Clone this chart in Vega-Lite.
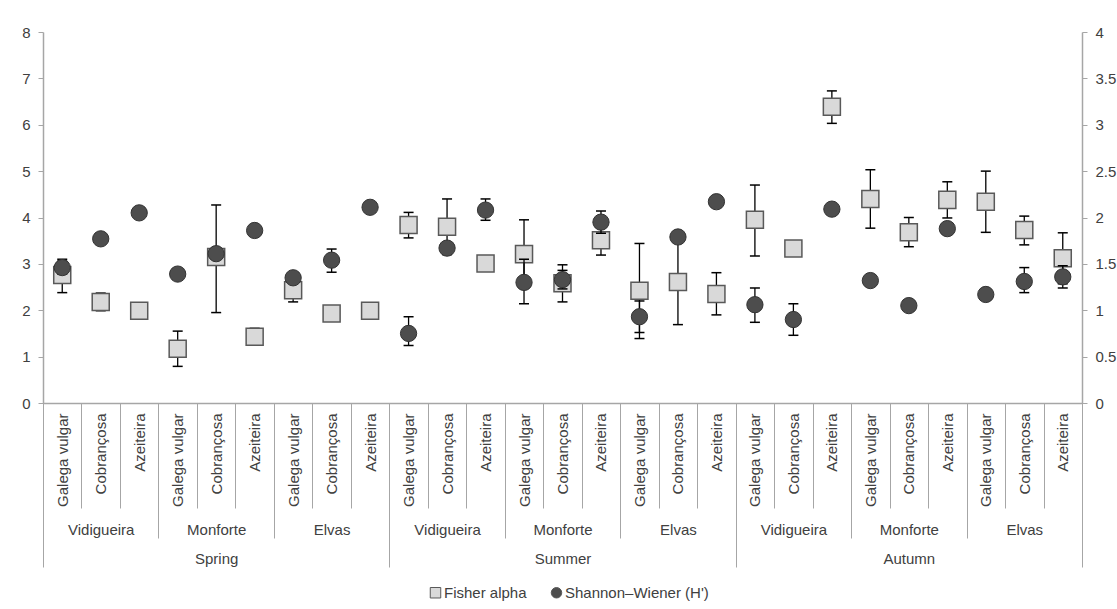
{
  "$schema": "https://vega.github.io/schema/vega-lite/v6.json",
  "width": 1039,
  "height": 371,
  "autosize": "none",
  "padding": {"left": 43, "top": 32, "right": 35, "bottom": 206},
  "background": "white",
  "config": {
    "view": {"stroke": null},
    "font": "Liberation Sans",
    "axis": {"labelFont": "Liberation Sans", "labelColor": "#404040", "domainColor": "#a6a6a6", "tickColor": "#a6a6a6", "grid": false, "title": null}
  },
  "data": {
    "values": [
      {"i": 0, "season": "Spring", "site": "Vidigueira", "cultivar": "Galega vulgar", "f": 2.76, "flo": 2.38, "fhi": 3.1, "h": 1.46, "hlo": 1.39, "hhi": 1.53},
      {"i": 1, "season": "Spring", "site": "Vidigueira", "cultivar": "Cobrançosa", "f": 2.18, "flo": 1.99, "fhi": 2.37, "h": 1.77, "hlo": 1.74, "hhi": 1.8},
      {"i": 2, "season": "Spring", "site": "Vidigueira", "cultivar": "Azeiteira", "f": 1.99, "flo": 1.92, "fhi": 2.06, "h": 2.05, "hlo": 2.01, "hhi": 2.09},
      {"i": 3, "season": "Spring", "site": "Monforte", "cultivar": "Galega vulgar", "f": 1.17, "flo": 0.79, "fhi": 1.55, "h": 1.39, "hlo": 1.34, "hhi": 1.44},
      {"i": 4, "season": "Spring", "site": "Monforte", "cultivar": "Cobrançosa", "f": 3.15, "flo": 1.95, "fhi": 4.27, "h": 1.61, "hlo": 1.55, "hhi": 1.67},
      {"i": 5, "season": "Spring", "site": "Monforte", "cultivar": "Azeiteira", "f": 1.43, "flo": 1.25, "fhi": 1.61, "h": 1.86, "hlo": 1.83, "hhi": 1.89},
      {"i": 6, "season": "Spring", "site": "Elvas", "cultivar": "Galega vulgar", "f": 2.43, "flo": 2.18, "fhi": 2.68, "h": 1.35, "hlo": 1.3, "hhi": 1.4},
      {"i": 7, "season": "Spring", "site": "Elvas", "cultivar": "Cobrançosa", "f": 1.93, "flo": 1.85, "fhi": 2.01, "h": 1.54, "hlo": 1.41, "hhi": 1.66},
      {"i": 8, "season": "Spring", "site": "Elvas", "cultivar": "Azeiteira", "f": 1.99, "flo": 1.85, "fhi": 2.13, "h": 2.11, "hlo": 2.08, "hhi": 2.14},
      {"i": 9, "season": "Summer", "site": "Vidigueira", "cultivar": "Galega vulgar", "f": 3.84, "flo": 3.56, "fhi": 4.11, "h": 0.75, "hlo": 0.62, "hhi": 0.93},
      {"i": 10, "season": "Summer", "site": "Vidigueira", "cultivar": "Cobrançosa", "f": 3.8, "flo": 3.2, "fhi": 4.4, "h": 1.67, "hlo": 1.62, "hhi": 1.72},
      {"i": 11, "season": "Summer", "site": "Vidigueira", "cultivar": "Azeiteira", "f": 3.01, "flo": 2.95, "fhi": 3.07, "h": 2.08, "hlo": 1.97, "hhi": 2.2},
      {"i": 12, "season": "Summer", "site": "Monforte", "cultivar": "Galega vulgar", "f": 3.21, "flo": 2.47, "fhi": 3.95, "h": 1.3, "hlo": 1.07, "hhi": 1.55},
      {"i": 13, "season": "Summer", "site": "Monforte", "cultivar": "Cobrançosa", "f": 2.58, "flo": 2.18, "fhi": 2.98, "h": 1.33, "hlo": 1.23, "hhi": 1.43},
      {"i": 14, "season": "Summer", "site": "Monforte", "cultivar": "Azeiteira", "f": 3.51, "flo": 3.19, "fhi": 3.83, "h": 1.95, "hlo": 1.83, "hhi": 2.07},
      {"i": 15, "season": "Summer", "site": "Elvas", "cultivar": "Galega vulgar", "f": 2.42, "flo": 1.39, "fhi": 3.44, "h": 0.93, "hlo": 0.76, "hhi": 1.1},
      {"i": 16, "season": "Summer", "site": "Elvas", "cultivar": "Cobrançosa", "f": 2.61, "flo": 1.69, "fhi": 3.53, "h": 1.79, "hlo": 1.76, "hhi": 1.82},
      {"i": 17, "season": "Summer", "site": "Elvas", "cultivar": "Azeiteira", "f": 2.35, "flo": 1.9, "fhi": 2.81, "h": 2.17, "hlo": 2.14, "hhi": 2.2},
      {"i": 18, "season": "Autumn", "site": "Vidigueira", "cultivar": "Galega vulgar", "f": 3.95, "flo": 3.17, "fhi": 4.7, "h": 1.06, "hlo": 0.87, "hhi": 1.24},
      {"i": 19, "season": "Autumn", "site": "Vidigueira", "cultivar": "Cobrançosa", "f": 3.33, "flo": 3.28, "fhi": 3.38, "h": 0.9, "hlo": 0.73, "hhi": 1.07},
      {"i": 20, "season": "Autumn", "site": "Vidigueira", "cultivar": "Azeiteira", "f": 6.39, "flo": 6.03, "fhi": 6.73, "h": 2.09, "hlo": 2.06, "hhi": 2.12},
      {"i": 21, "season": "Autumn", "site": "Monforte", "cultivar": "Galega vulgar", "f": 4.4, "flo": 3.77, "fhi": 5.03, "h": 1.32, "hlo": 1.29, "hhi": 1.35},
      {"i": 22, "season": "Autumn", "site": "Monforte", "cultivar": "Cobrançosa", "f": 3.68, "flo": 3.37, "fhi": 4.0, "h": 1.05, "hlo": 1.02, "hhi": 1.08},
      {"i": 23, "season": "Autumn", "site": "Monforte", "cultivar": "Azeiteira", "f": 4.38, "flo": 3.99, "fhi": 4.77, "h": 1.88, "hlo": 1.84, "hhi": 1.92},
      {"i": 24, "season": "Autumn", "site": "Elvas", "cultivar": "Galega vulgar", "f": 4.34, "flo": 3.68, "fhi": 5.0, "h": 1.17, "hlo": 1.14, "hhi": 1.2},
      {"i": 25, "season": "Autumn", "site": "Elvas", "cultivar": "Cobrançosa", "f": 3.73, "flo": 3.41, "fhi": 4.03, "h": 1.31, "hlo": 1.19, "hhi": 1.46},
      {"i": 26, "season": "Autumn", "site": "Elvas", "cultivar": "Azeiteira", "f": 3.12, "flo": 2.57, "fhi": 3.67, "h": 1.36, "hlo": 1.24, "hhi": 1.48}
    ]
  },
  "layer": [
    {
      "encoding": {
        "x": {
          "field": "i", "type": "ordinal",
          "scale": {"type": "band", "paddingInner": 0, "paddingOuter": 0},
          "axis": {
            "orient": "bottom",
            "tickBand": "extent", "tickSize": 105, "tickWidth": 1, "domainWidth": 1.5,
            "labelAngle": 270, "labelAlign": "right", "labelBaseline": "middle",
            "labelPadding": -95, "labelFontSize": 15, "labelOverlap": false, "labelBound": false,
            "labelExpr": "['Galega vulgar','Cobrançosa','Azeiteira'][datum.value % 3]"
          }
        }
      },
      "layer": [
        {
          "mark": {"type": "rule", "color": "#000000", "strokeWidth": 1.3},
          "encoding": {
            "y": {"field": "flo", "type": "quantitative", "scale": {"domain": [0, 8], "nice": false},
              "axis": {"orient": "left", "values": [0, 1, 2, 3, 4, 5, 6, 7, 8], "tickSize": 5, "domainWidth": 1.5, "labelFontSize": 15, "labelPadding": 8}},
            "y2": {"field": "fhi"}
          }
        },
        {
          "mark": {"type": "tick", "color": "#000000", "size": 10, "thickness": 1.5, "opacity": 1},
          "encoding": {"y": {"field": "flo", "type": "quantitative", "scale": {"domain": [0, 8], "nice": false},
            "axis": {"orient": "left", "values": [0, 1, 2, 3, 4, 5, 6, 7, 8], "tickSize": 5, "domainWidth": 1.5, "labelFontSize": 15, "labelPadding": 8}}}
        },
        {
          "mark": {"type": "tick", "color": "#000000", "size": 10, "thickness": 1.5, "opacity": 1},
          "encoding": {"y": {"field": "fhi", "type": "quantitative", "scale": {"domain": [0, 8], "nice": false},
            "axis": {"orient": "left", "values": [0, 1, 2, 3, 4, 5, 6, 7, 8], "tickSize": 5, "domainWidth": 1.5, "labelFontSize": 15, "labelPadding": 8}}}
        },
        {
          "mark": {"type": "point", "filled": true, "size": 290, "stroke": "#595959", "strokeWidth": 1.5, "opacity": 1},
          "encoding": {
            "y": {
              "field": "f", "type": "quantitative", "scale": {"domain": [0, 8], "nice": false},
              "axis": {"orient": "left", "values": [0, 1, 2, 3, 4, 5, 6, 7, 8], "tickSize": 5, "domainWidth": 1.5, "labelFontSize": 15, "labelPadding": 8}
            },
            "color": {
              "datum": "Fisher alpha",
              "scale": {"domain": ["Fisher alpha", "Shannon–Wiener (H')"], "range": ["#d9d9d9", "#4d4d4d"]},
              "legend": {"orient": "none", "legendX": 385, "legendY": 553, "direction": "horizontal", "title": null, "labelFontSize": 15, "labelColor": "#404040", "labelFont": "Liberation Sans", "symbolSize": 110, "symbolStrokeColor": "#595959", "symbolStrokeWidth": 1, "labelOffset": 1, "columnPadding": 22}
            },
            "shape": {
              "datum": "Fisher alpha",
              "scale": {"domain": ["Fisher alpha", "Shannon–Wiener (H')"], "range": ["square", "circle"]},
              "legend": {"orient": "none", "legendX": 385, "legendY": 553, "direction": "horizontal", "title": null, "labelFontSize": 15, "labelColor": "#404040", "labelFont": "Liberation Sans", "symbolSize": 110, "symbolStrokeColor": "#595959", "symbolStrokeWidth": 1, "labelOffset": 1, "columnPadding": 22}
            }
          }
        }
      ]
    },
    {
      "encoding": {
        "x": {"field": "i", "type": "ordinal", "scale": {"type": "band", "paddingInner": 0, "paddingOuter": 0}, "axis": null}
      },
      "layer": [
        {
          "mark": {"type": "rule", "color": "#000000", "strokeWidth": 1.3},
          "encoding": {
            "y": {"field": "hlo", "type": "quantitative", "scale": {"domain": [0, 4], "nice": false},
              "axis": {"orient": "right", "values": [0, 0.5, 1, 1.5, 2, 2.5, 3, 3.5, 4], "format": ".1~f", "tickSize": 5, "domainWidth": 1.5, "labelFontSize": 15, "labelPadding": 8}},
            "y2": {"field": "hhi"}
          }
        },
        {
          "mark": {"type": "tick", "color": "#000000", "size": 10, "thickness": 1.5, "opacity": 1},
          "encoding": {"y": {"field": "hlo", "type": "quantitative", "scale": {"domain": [0, 4], "nice": false},
            "axis": {"orient": "right", "values": [0, 0.5, 1, 1.5, 2, 2.5, 3, 3.5, 4], "format": ".1~f", "tickSize": 5, "domainWidth": 1.5, "labelFontSize": 15, "labelPadding": 8}}}
        },
        {
          "mark": {"type": "tick", "color": "#000000", "size": 10, "thickness": 1.5, "opacity": 1},
          "encoding": {"y": {"field": "hhi", "type": "quantitative", "scale": {"domain": [0, 4], "nice": false},
            "axis": {"orient": "right", "values": [0, 0.5, 1, 1.5, 2, 2.5, 3, 3.5, 4], "format": ".1~f", "tickSize": 5, "domainWidth": 1.5, "labelFontSize": 15, "labelPadding": 8}}}
        },
        {
          "mark": {"type": "point", "filled": true, "size": 265, "stroke": "#333333", "strokeWidth": 1, "opacity": 1},
          "encoding": {
            "y": {
              "field": "h", "type": "quantitative", "scale": {"domain": [0, 4], "nice": false},
              "axis": {"orient": "right", "values": [0, 0.5, 1, 1.5, 2, 2.5, 3, 3.5, 4], "format": ".1~f", "tickSize": 5, "domainWidth": 1.5, "labelFontSize": 15, "labelPadding": 8}
            },
            "color": {"datum": "Shannon–Wiener (H')"},
            "shape": {"datum": "Shannon–Wiener (H')"}
          }
        }
      ]
    },
    {
      "data": {
        "values": [
          {"sg": "Spring Vidigueira"}, {"sg": "Spring Monforte"}, {"sg": "Spring Elvas"},
          {"sg": "Summer Vidigueira"}, {"sg": "Summer Monforte"}, {"sg": "Summer Elvas"},
          {"sg": "Autumn Vidigueira"}, {"sg": "Autumn Monforte"}, {"sg": "Autumn Elvas"}
        ]
      },
      "mark": {"type": "rule", "opacity": 0},
      "encoding": {
        "x": {
          "field": "sg", "type": "nominal", "sort": null,
          "scale": {"type": "band", "paddingInner": 0, "paddingOuter": 0},
          "axis": {
            "orient": "bottom",
            "tickBand": "extent", "tickSize": 135, "tickWidth": 1, "domain": false,
            "labelAngle": 0, "labelAlign": "center", "labelBaseline": "middle", "labelPadding": -9,
            "labelFontSize": 15, "labelExpr": "split(datum.value, ' ')[1]"
          }
        }
      }
    },
    {
      "data": {"values": [{"season": "Spring"}, {"season": "Summer"}, {"season": "Autumn"}]},
      "mark": {"type": "rule", "opacity": 0},
      "encoding": {
        "x": {
          "field": "season", "type": "nominal", "sort": null,
          "scale": {"type": "band", "paddingInner": 0, "paddingOuter": 0},
          "axis": {
            "orient": "bottom",
            "tickBand": "extent", "tickSize": 164, "tickWidth": 1, "domain": false,
            "labelAngle": 0, "labelAlign": "center", "labelBaseline": "middle", "labelPadding": -9,
            "labelFontSize": 15
          }
        }
      }
    }
  ],
  "resolve": {
    "scale": {"x": "independent", "y": "independent"},
    "axis": {"x": "independent", "y": "independent"}
  }
}
